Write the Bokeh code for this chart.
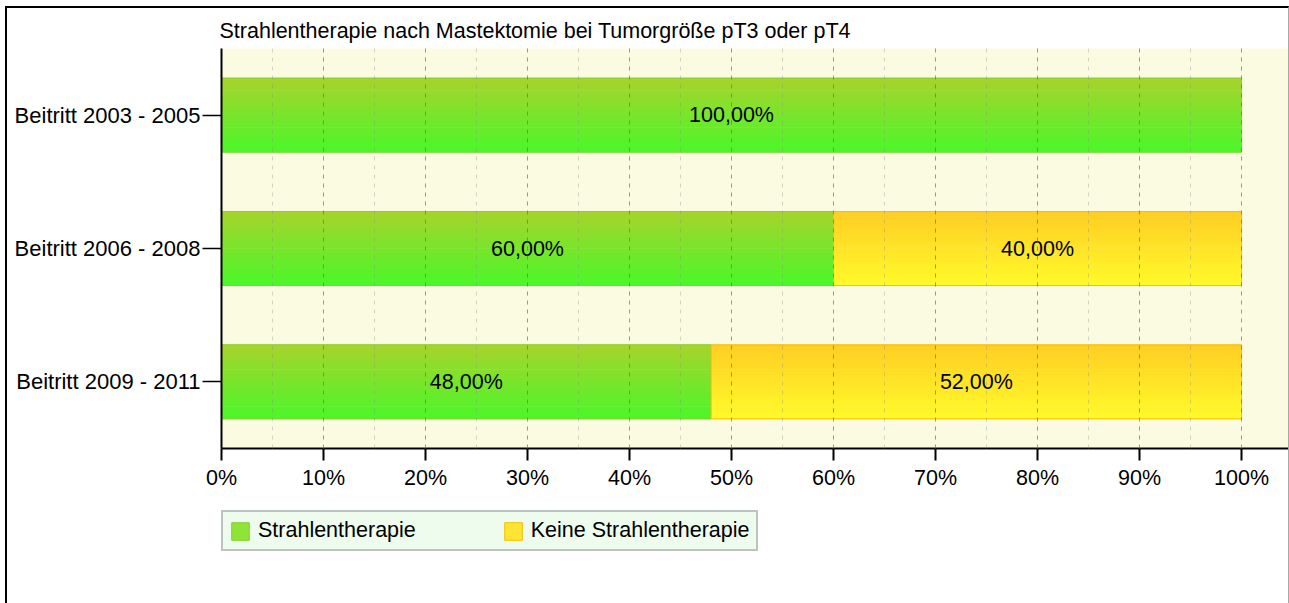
from bokeh.plotting import figure
from bokeh.layouts import column
from bokeh.models import (FactorRange, Range1d, SingleIntervalTicker,
                          PrintfTickFormatter, Legend, LegendItem, ColumnDataSource)
from bokeh.transform import dodge
from bokeh.core.properties import value
from bokeh.embed import file_html
from bokeh.resources import INLINE

# ---------------- data ----------------
title_text = "Strahlentherapie nach Mastektomie bei Tumorgröße pT3 oder pT4"
categories = ["Beitritt 2003 - 2005", "Beitritt 2006 - 2008", "Beitritt 2009 - 2011"]
strahlen = [100.0, 60.0, 48.0]
keine = [0.0, 40.0, 52.0]
series_names = ["Strahlentherapie", "Keine Strahlentherapie"]

# ---------------- style ----------------
FONT = "Liberation Sans"
FS = "21.5px"
BAR_H = 0.555
N_STRIPS = 24
X_END = 104.6

p = figure(width=1281, height=487,
           y_range=FactorRange(factors=categories[::-1]),
           x_range=Range1d(0, X_END),
           output_backend="svg", toolbar_location=None,
           min_border_left=214, min_border_right=0,
           min_border_top=40, min_border_bottom=47,
           title=title_text)

p.background_fill_color = "#fbfbe2"
p.border_fill_color = "#ffffff"
p.outline_line_color = None

p.title.text_font = FONT
p.title.text_font_size = FS
p.title.text_font_style = "normal"
p.title.text_color = "#000000"
p.title.align = "left"
p.title.offset = -2
p.title.standoff = 11

# separate strip below for the legend; its x window lies beyond the data,
# so its bar renderers only serve as legend swatches
pl = figure(width=1281, height=108,
            y_range=FactorRange(factors=categories[::-1]),
            x_range=Range1d(-3 * X_END, -2 * X_END),
            output_backend="svg", toolbar_location=None,
            x_axis_location=None, y_axis_location=None,
            min_border_left=214, min_border_right=0,
            min_border_top=15, min_border_bottom=0)
pl.background_fill_color = "#ffffff"
pl.border_fill_color = "#ffffff"
pl.outline_line_color = None
pl.grid.visible = False


def lerp(c1, c2, t):
    return "#%02x%02x%02x" % tuple(int(round(a + (b - a) * t)) for a, b in zip(c1, c2))


series = [
    dict(name=series_names[0], values=strahlen, lefts=[0.0] * len(strahlen),
         top=(166, 212, 44), bottom=(76, 246, 42), mid="#8ee437", line="#86d030"),
    dict(name=series_names[1], values=keine, lefts=strahlen,
         top=(255, 206, 36), bottom=(255, 249, 42), mid="#ffe433", line="#f5c000"),
]

legend_items = []
for s in series:
    cats, lefts, rights, centers, labels = [], [], [], [], []
    for c, l, v in zip(categories, s["lefts"], s["values"]):
        if v > 0:
            cats.append(c)
            lefts.append(l)
            rights.append(l + v)
            centers.append(l + v / 2.0)
            labels.append(("%.2f" % v).replace(".", ",") + "%")
    src = ColumnDataSource(dict(cat=cats, left=lefts, right=rights, xc=centers, lab=labels))
    sh = BAR_H / N_STRIPS
    for k in range(N_STRIPS):
        off = BAR_H / 2.0 - (k + 0.5) * sh
        col = lerp(s["top"], s["bottom"], k / (N_STRIPS - 1))
        p.hbar(y=dodge("cat", off, range=p.y_range), left="left", right="right",
               height=sh * 1.2, source=src, fill_color=col, line_color=None)
    p.hbar(y="cat", left="left", right="right", height=BAR_H, source=src,
           fill_color=None, line_color=s["line"], line_width=1)
    p.text(x="xc", y="cat", text="lab", source=src, text_align="center",
           text_baseline="middle", text_font=value(FONT), text_font_size=FS,
           text_color="#000000")
    swatch = pl.hbar(y="cat", left="left", right="right", height=BAR_H, source=src,
                     fill_color=s["mid"], line_color=s["line"], line_width=1)
    legend_items.append(LegendItem(label=s["name"], renderers=[swatch]))

# grid
p.ygrid.visible = False
p.xgrid.ticker = SingleIntervalTicker(interval=10, num_minor_ticks=2)
p.xgrid.grid_line_color = "#6a6a6a"
p.xgrid.grid_line_alpha = 0.55
p.xgrid.grid_line_dash = "4 5"
p.xgrid.minor_grid_line_color = "#8a8a8a"
p.xgrid.minor_grid_line_alpha = 0.35
p.xgrid.minor_grid_line_dash = "4 5"
p.xgrid.level = "overlay"

# x axis
xa = p.xaxis[0]
xa.ticker = SingleIntervalTicker(interval=10, num_minor_ticks=2)
xa.formatter = PrintfTickFormatter(format="%d%%")
xa.major_tick_out = 12
xa.major_tick_in = 0
xa.minor_tick_out = 0
xa.minor_tick_in = 0
xa.axis_line_width = 2
xa.axis_line_color = "#000000"
xa.major_tick_line_width = 2
xa.major_tick_line_color = "#000000"
xa.major_label_standoff = 5
xa.major_label_text_font = FONT
xa.major_label_text_font_size = FS
xa.major_label_text_color = "#000000"

# y axis
ya = p.yaxis[0]
ya.major_tick_out = 19
ya.major_tick_in = 0
ya.minor_tick_out = 0
ya.axis_line_width = 2
ya.axis_line_color = "#000000"
ya.major_tick_line_width = 1.5
ya.major_tick_line_color = "#000000"
ya.major_label_standoff = 2
ya.major_label_text_font = FONT
ya.major_label_text_font_size = "22px"
ya.major_label_text_color = "#000000"

legend = Legend(items=legend_items, orientation="horizontal", location="top_left",
                margin=0, padding=6, spacing=86, glyph_width=22, glyph_height=22,
                label_standoff=7, label_text_font=FONT, label_text_font_size=FS,
                label_text_color="#000000",
                border_line_color="#8c8c8c", border_line_width=2,
                background_fill_color="#eefcee", background_fill_alpha=1.0)
pl.add_layout(legend)

layout = column(p, pl, spacing=0)
layout.styles = {"margin-left": "5px", "margin-top": "6px",
                 "border-top": "2px solid #000000",
                 "border-left": "2px solid #000000",
                 "border-right": "1px solid #a8a8a8"}

open("out.html", "w").write(file_html(layout, INLINE))
